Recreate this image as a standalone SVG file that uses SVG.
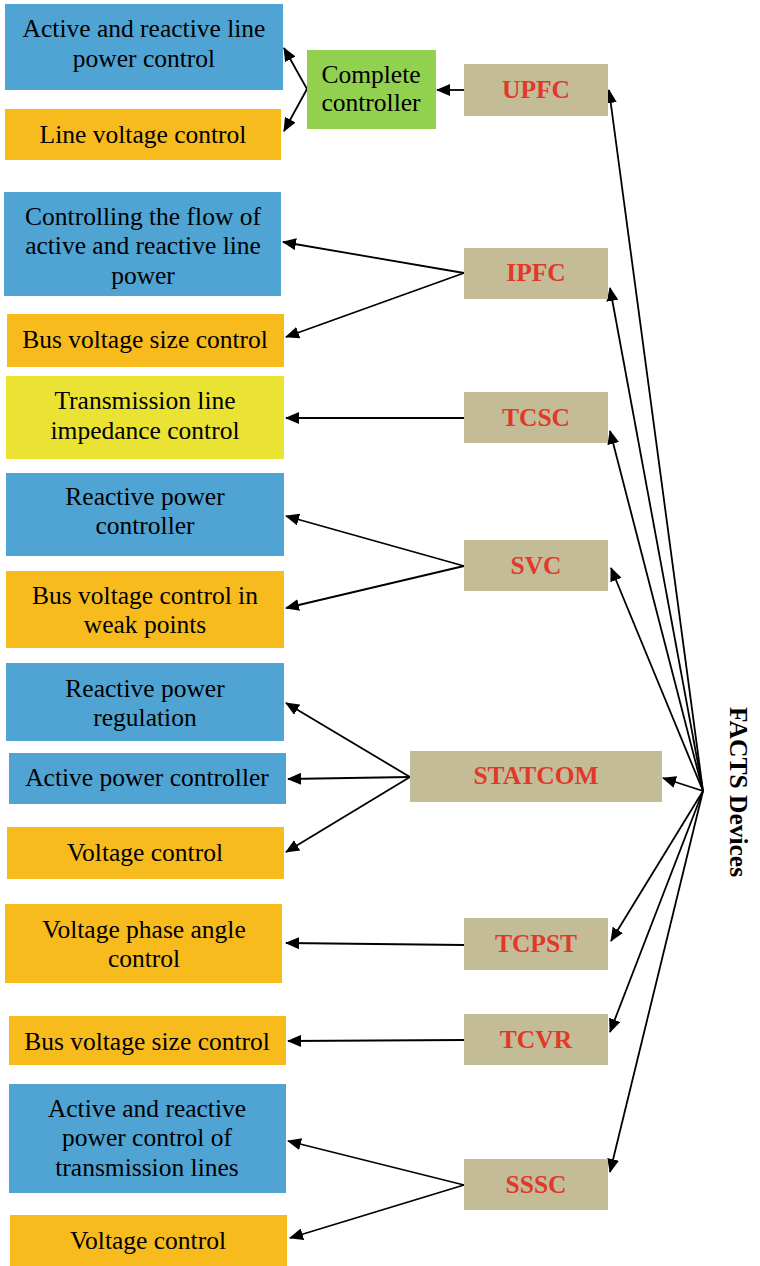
<svg xmlns="http://www.w3.org/2000/svg" width="760" height="1266" viewBox="0 0 760 1266">
  <defs>
    <style>
      .lbl { font-family: "Liberation Serif", "Times New Roman", serif; font-size: 25.5px; fill: #000; text-anchor: middle; }
      .dev { font-family: "Liberation Serif", "Times New Roman", serif; font-size: 25.5px; font-weight: bold; fill: #e0392b; text-anchor: middle; }
      .title { font-family: "Liberation Serif", "Times New Roman", serif; font-size: 25.5px; font-weight: bold; fill: #000; text-anchor: middle; }
      .blue { fill: #4fa4d4; }
      .orange { fill: #f8bb1e; }
      .yellow { fill: #ebe333; }
      .green { fill: #92d050; }
      .tan { fill: #c4bc97; }
      .conn { stroke: #000; stroke-width: 1.8; fill: none; marker-end: url(#head); }
    </style>
    <marker id="head" viewBox="0 0 14 12" refX="13" refY="6" markerWidth="14" markerHeight="12" markerUnits="userSpaceOnUse" orient="auto">
      <path d="M0,0 L14,6 L0,12 Z" fill="#000"/>
    </marker>
  </defs>

  <!-- connectors -->
  <g id="connectors">
    <line class="conn" x1="464" y1="90" x2="437" y2="90"/>
    <line class="conn" x1="307" y1="89" x2="284" y2="48"/>
    <line class="conn" x1="307" y1="89" x2="284" y2="131"/>
    <line class="conn" x1="464" y1="273" x2="283" y2="242"/>
    <line class="conn" x1="464" y1="273" x2="286" y2="337"/>
    <line class="conn" x1="464" y1="418" x2="286" y2="418"/>
    <line class="conn" x1="464" y1="566" x2="286" y2="516"/>
    <line class="conn" x1="464" y1="566" x2="286" y2="608"/>
    <line class="conn" x1="410" y1="777" x2="286" y2="703"/>
    <line class="conn" x1="410" y1="777" x2="288" y2="779"/>
    <line class="conn" x1="410" y1="777" x2="286" y2="852"/>
    <line class="conn" x1="464" y1="945" x2="286" y2="943"/>
    <line class="conn" x1="464" y1="1040" x2="288" y2="1041"/>
    <line class="conn" x1="464" y1="1185" x2="288" y2="1141"/>
    <line class="conn" x1="464" y1="1185" x2="290" y2="1238"/>
    <!-- hub fan-out -->
    <line class="conn" x1="703" y1="791" x2="609" y2="90"/>
    <line class="conn" x1="703" y1="791" x2="610" y2="288"/>
    <line class="conn" x1="703" y1="791" x2="610" y2="431"/>
    <line class="conn" x1="703" y1="791" x2="611" y2="568"/>
    <line class="conn" x1="703" y1="791" x2="663" y2="778"/>
    <line class="conn" x1="703" y1="791" x2="611" y2="941"/>
    <line class="conn" x1="703" y1="791" x2="610" y2="1032"/>
    <line class="conn" x1="703" y1="791" x2="610" y2="1172"/>
  </g>

  <g id="n-active-reactive-line-power">
    <rect class="blue" x="5" y="4" width="278" height="86"/>
    <text class="lbl" x="144" y="37">Active and reactive line</text>
    <text class="lbl" x="144" y="67">power control</text>
  </g>
  <g id="n-line-voltage">
    <rect class="orange" x="5" y="109" width="276" height="51"/>
    <text class="lbl" x="143" y="143">Line voltage control</text>
  </g>
  <g id="n-complete-controller">
    <rect class="green" x="307" y="50" width="129" height="79"/>
    <text class="lbl" x="371" y="83">Complete</text>
    <text class="lbl" x="371" y="111">controller</text>
  </g>
  <g id="n-upfc">
    <rect class="tan" x="464" y="64" width="144" height="52"/>
    <text class="dev" x="536" y="98">UPFC</text>
  </g>

  <g id="n-flow-control">
    <rect class="blue" x="4" y="192" width="277" height="104"/>
    <text class="lbl" x="143" y="225">Controlling the flow of</text>
    <text class="lbl" x="143" y="254">active and reactive line</text>
    <text class="lbl" x="143" y="284">power</text>
  </g>
  <g id="n-bus-voltage-size-1">
    <rect class="orange" x="7" y="314" width="277" height="53"/>
    <text class="lbl" x="145" y="348">Bus voltage size control</text>
  </g>
  <g id="n-ipfc">
    <rect class="tan" x="464" y="248" width="144" height="51"/>
    <text class="dev" x="536" y="281">IPFC</text>
  </g>

  <g id="n-impedance">
    <rect class="yellow" x="6" y="376" width="278" height="83"/>
    <text class="lbl" x="145" y="409">Transmission line</text>
    <text class="lbl" x="145" y="439">impedance control</text>
  </g>
  <g id="n-tcsc">
    <rect class="tan" x="464" y="392" width="144" height="51"/>
    <text class="dev" x="536" y="426">TCSC</text>
  </g>

  <g id="n-reactive-controller">
    <rect class="blue" x="6" y="473" width="278" height="83"/>
    <text class="lbl" x="145" y="505">Reactive power</text>
    <text class="lbl" x="145" y="534">controller</text>
  </g>
  <g id="n-weak-points">
    <rect class="orange" x="6" y="571" width="278" height="77"/>
    <text class="lbl" x="145" y="604">Bus voltage control in</text>
    <text class="lbl" x="145" y="633">weak points</text>
  </g>
  <g id="n-svc">
    <rect class="tan" x="464" y="540" width="144" height="51"/>
    <text class="dev" x="536" y="574">SVC</text>
  </g>

  <g id="n-reactive-regulation">
    <rect class="blue" x="6" y="663" width="278" height="78"/>
    <text class="lbl" x="145" y="697">Reactive power</text>
    <text class="lbl" x="145" y="726">regulation</text>
  </g>
  <g id="n-active-controller">
    <rect class="blue" x="9" y="753" width="277" height="51"/>
    <text class="lbl" x="147" y="786">Active power controller</text>
  </g>
  <g id="n-voltage-control-1">
    <rect class="orange" x="7" y="827" width="277" height="52"/>
    <text class="lbl" x="145" y="861">Voltage control</text>
  </g>
  <g id="n-statcom">
    <rect class="tan" x="410" y="751" width="252" height="51"/>
    <text class="dev" x="536" y="784">STATCOM</text>
  </g>

  <g id="n-phase-angle">
    <rect class="orange" x="5" y="904" width="277" height="79"/>
    <text class="lbl" x="144" y="938">Voltage phase angle</text>
    <text class="lbl" x="144" y="967">control</text>
  </g>
  <g id="n-tcpst">
    <rect class="tan" x="464" y="918" width="144" height="52"/>
    <text class="dev" x="536" y="952">TCPST</text>
  </g>

  <g id="n-bus-voltage-size-2">
    <rect class="orange" x="9" y="1016" width="277" height="49"/>
    <text class="lbl" x="147" y="1050">Bus voltage size control</text>
  </g>
  <g id="n-tcvr">
    <rect class="tan" x="464" y="1014" width="144" height="51"/>
    <text class="dev" x="536" y="1048">TCVR</text>
  </g>

  <g id="n-transmission-power">
    <rect class="blue" x="9" y="1084" width="277" height="109"/>
    <text class="lbl" x="147" y="1117">Active and reactive</text>
    <text class="lbl" x="147" y="1146">power control of</text>
    <text class="lbl" x="147" y="1176">transmission lines</text>
  </g>
  <g id="n-voltage-control-2">
    <rect class="orange" x="10" y="1215" width="277" height="51"/>
    <text class="lbl" x="148" y="1249">Voltage control</text>
  </g>
  <g id="n-sssc">
    <rect class="tan" x="464" y="1159" width="144" height="51"/>
    <text class="dev" x="536" y="1193">SSSC</text>
  </g>

  <g id="n-facts">
    <text class="title" transform="translate(730,792) rotate(90)">FACTS Devices</text>
  </g>
</svg>
